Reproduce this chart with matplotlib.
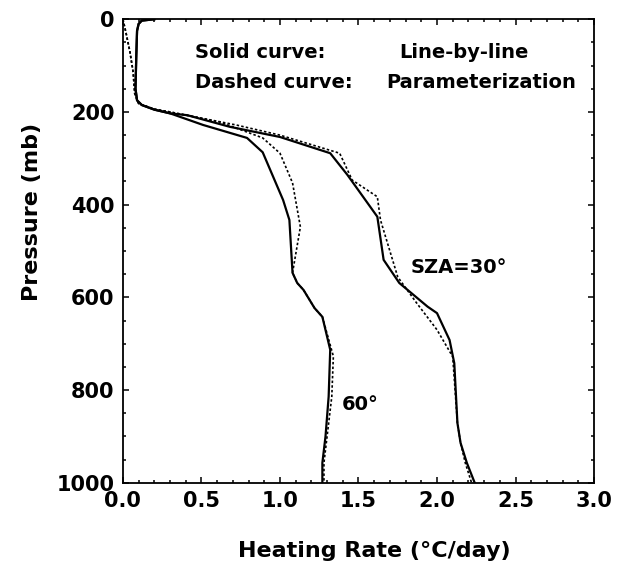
import matplotlib
matplotlib.use("Agg")
import matplotlib.pyplot as plt
from matplotlib.ticker import MultipleLocator, FormatStrFormatter

# heating rate (C/day) vs pressure (mb)
lbl_30_x = [0.20, 0.12, 0.10, 0.09, 0.085, 0.08, 0.09, 0.12, 0.20, 0.30, 0.41, 0.68, 1.00,
            1.32, 1.43, 1.62, 1.66, 1.76, 1.94, 2.00, 2.08, 2.11, 2.13, 2.15, 2.19, 2.24]
lbl_30_p = [0, 3, 10, 25, 80, 150, 175, 185, 195, 203, 207, 232, 254,
            289, 336, 426, 519, 569, 620, 634, 692, 742, 871, 914, 957, 1000]

par_30_x = [0.0, 0.02, 0.045, 0.065, 0.075, 0.10, 0.20, 0.30, 0.72, 1.00, 1.38, 1.46, 1.62,
            1.64, 1.75, 1.87, 2.00, 2.10, 2.13, 2.15, 2.18, 2.22]
par_30_p = [0, 30, 71, 114, 160, 182, 194, 200, 228, 250, 289, 347, 383,
            433, 556, 612, 670, 728, 871, 914, 957, 1000]

lbl_60_x = [0.20, 0.12, 0.10, 0.09, 0.085, 0.08, 0.09, 0.12, 0.20, 0.30, 0.51, 0.79, 0.89,
            1.02, 1.06, 1.08, 1.11, 1.15, 1.22, 1.27, 1.32, 1.31, 1.29, 1.27, 1.27]
lbl_60_p = [0, 3, 10, 25, 80, 150, 175, 185, 195, 203, 228, 256, 287,
            390, 433, 547, 569, 584, 623, 642, 713, 814, 900, 957, 1000]

par_60_x = [0.0, 0.02, 0.045, 0.065, 0.075, 0.10, 0.20, 0.30, 0.62, 0.89, 1.00, 1.08, 1.13,
            1.08, 1.11, 1.15, 1.22, 1.27, 1.34, 1.33, 1.30, 1.28, 1.28]
par_60_p = [0, 30, 71, 114, 160, 182, 194, 200, 222, 256, 289, 353, 448,
            547, 569, 584, 623, 642, 727, 814, 900, 957, 1000]

plt.rcParams["font.family"] = ["DejaVu Sans"]
plt.rcParams["font.weight"] = "bold"

fig = plt.figure(figsize=(6.24, 5.66), dpi=100)
ax = fig.add_axes([0.197, 0.147, 0.755, 0.819])

dash = (0, (1.5, 1.3))
ax.plot(lbl_30_x, lbl_30_p, color="black", lw=1.6)
ax.plot(par_30_x, par_30_p, color="black", lw=1.2, linestyle=dash)
ax.plot(lbl_60_x, lbl_60_p, color="black", lw=1.6)
ax.plot(par_60_x, par_60_p, color="black", lw=1.2, linestyle=dash)

ax.set_xlim(0, 3.0)
ax.set_ylim(1000, 0)
ax.xaxis.set_major_locator(MultipleLocator(0.5))
ax.xaxis.set_minor_locator(MultipleLocator(0.1))
ax.yaxis.set_major_locator(MultipleLocator(200))
ax.yaxis.set_minor_locator(MultipleLocator(50))
ax.xaxis.set_major_formatter(FormatStrFormatter("%.1f"))
ax.tick_params(which="both", direction="in", top=True, right=True, width=1.1)
ax.tick_params(which="major", length=4.5, labelsize=15, pad=6)
ax.tick_params(which="minor", length=2.5)
for s in ax.spines.values():
    s.set_linewidth(1.3)

ax.set_xlabel("Heating Rate (\u00b0C/day)", fontsize=16, fontweight="bold")
ax.set_ylabel("Pressure (mb)", fontsize=16, fontweight="bold")
ax.xaxis.set_label_coords(0.533, -0.125)
ax.yaxis.set_label_coords(-0.172, 0.584)

txt = dict(fontsize=14, fontweight="bold", va="baseline")
ax.text(0.46, 84, "Solid curve:", **txt)
ax.text(0.46, 149, "Dashed curve:", **txt)
ax.text(1.76, 84, "Line-by-line", **txt)
ax.text(1.675, 149, "Parameterization", **txt)
ax.text(1.83, 548, "SZA=30\u00b0", **txt)
ax.text(1.395, 843, "60\u00b0", **txt)

fig.savefig("out.png", dpi=100)
